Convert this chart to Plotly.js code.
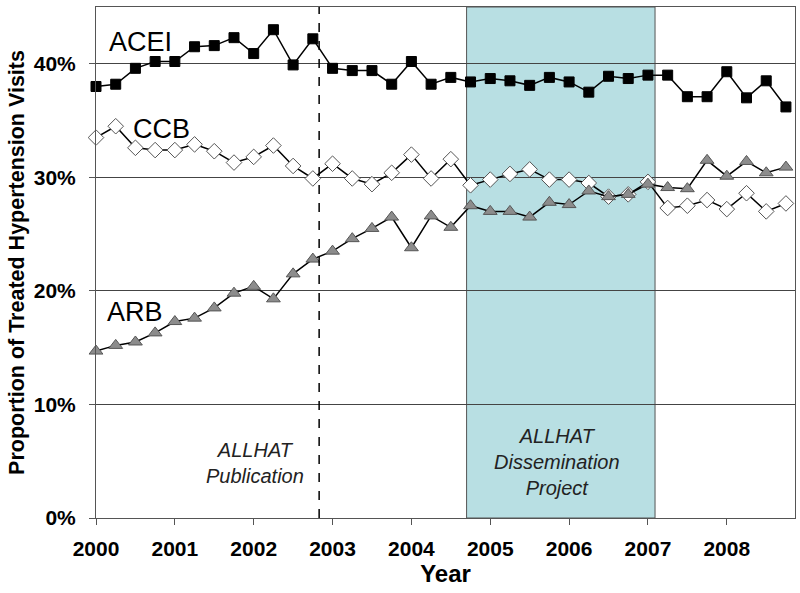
<!DOCTYPE html>
<html>
<head>
<meta charset="utf-8">
<script src="https://cdn.plot.ly/plotly-3.0.1.min.js"></script>
<style>html,body{margin:0;padding:0;background:#fff;}#chart{width:800px;height:593px;}</style>
</head>
<body>
<div id="chart"></div>
<script>
// Quarterly time points (year fractions)
const quarters = [2000.00,2000.25,2000.50,2000.75,2001.00,2001.25,2001.50,2001.75,2002.00,2002.25,2002.50,2002.75,
  2003.00,2003.25,2003.50,2003.75,2004.00,2004.25,2004.50,2004.75,2005.00,2005.25,2005.50,2005.75,
  2006.00,2006.25,2006.50,2006.75,2007.00,2007.25,2007.50,2007.75,2008.00,2008.25,2008.50,2008.75];
const acei = [38.0,38.2,39.6,40.2,40.2,41.5,41.6,42.3,40.9,43.0,39.9,42.2,39.6,39.4,39.4,38.2,40.2,38.2,38.8,38.4,
  38.7,38.5,38.1,38.8,38.4,37.5,38.9,38.7,39.0,39.0,37.1,37.1,39.3,37.0,38.5,36.2];
const ccb = [33.5,34.5,32.6,32.4,32.4,32.9,32.3,31.3,31.8,32.8,31.0,29.9,31.2,29.9,29.4,30.4,32.0,29.9,31.6,29.3,
  29.8,30.3,30.7,29.8,29.8,29.5,28.3,28.5,29.6,27.3,27.5,28.0,27.2,28.6,27.0,27.7];
const arb = [14.7,15.2,15.5,16.3,17.3,17.6,18.5,19.8,20.4,19.3,21.5,22.8,23.5,24.6,25.5,26.5,23.8,26.6,25.6,27.5,
  27.0,27.0,26.5,27.8,27.6,28.8,28.3,28.5,29.4,29.1,29.0,31.5,30.1,31.4,30.4,30.9];
const yearTicks = [2000,2001,2002,2003,2004,2005,2006,2007,2008];
const yearLabels = ["2000","2001","2002","2003","2004","2005","2006","2007","2008"];
const yTicks = [0,10,20,30,40];
const yLabels = ["0%","10%","20%","30%","40%"];
const publicationDate = 2002.83;
const projectStart = 2004.70, projectEnd = 2007.09;

const font = "Liberation Sans, Arial, sans-serif";

const traces = [
  {x: quarters, y: acei, name: "ACEI", mode: "lines+markers", cliponaxis: false,
   line: {color: "#000", width: 1.5},
   marker: {symbol: "square", size: 10, color: "#000", line: {color: "#000", width: 1}}},
  {x: quarters, y: ccb, name: "CCB", mode: "lines+markers", cliponaxis: false,
   line: {color: "#000", width: 1.5},
   marker: {symbol: "diamond", size: 12, color: "#fff", line: {color: "#555", width: 1}}},
  {x: quarters, y: arb, name: "ARB", mode: "lines+markers", cliponaxis: false,
   line: {color: "#000", width: 1.5},
   marker: {symbol: "triangle-up", size: 12, color: "#8c8c8c", line: {color: "#555", width: 1}}}
];

const layout = {
  width: 800, height: 593,
  margin: {l: 96, r: 5, t: 7, b: 75},
  paper_bgcolor: "#fff", plot_bgcolor: "#fff",
  showlegend: false,
  font: {family: font, color: "#000"},
  xaxis: {
    range: [2000, 2008.865], tickvals: yearTicks, ticktext: yearLabels,
    ticks: "outside", ticklen: 6, tickcolor: "#555", tickwidth: 1,
    showgrid: false, zeroline: false,
    showline: true, mirror: true, linecolor: "#555", linewidth: 1,
    tickfont: {family: font, size: 21, color: "#000", weight: "bold"},
    ticklabelstandoff: 6,
    title: {text: "<b>Year</b>", font: {family: font, size: 24, color: "#000"}, standoff: 0}
  },
  yaxis: {
    range: [0, 45], tickvals: yTicks, ticktext: yLabels,
    ticks: "outside", ticklen: 6, tickcolor: "#555", tickwidth: 1,
    showgrid: true, gridcolor: "#444", gridwidth: 1, zeroline: false,
    showline: true, mirror: true, linecolor: "#555", linewidth: 1,
    tickfont: {family: font, size: 21, color: "#000", weight: "bold"},
    ticklabelstandoff: 9,
    title: {text: "<b>Proportion of Treated Hypertension Visits</b>", font: {family: font, size: 21.5, color: "#000"}, standoff: 3}
  },
  shapes: [
    {type: "rect", xref: "x", yref: "y", x0: projectStart, x1: projectEnd, y0: 0, y1: 45,
     fillcolor: "#b8dfe3", line: {color: "#555", width: 1}, layer: "below"},
    {type: "line", xref: "x", yref: "y", x0: publicationDate, x1: publicationDate, y0: 0, y1: 45,
     line: {color: "#000", width: 1.5, dash: "dash"}, layer: "above"}
  ],
  annotations: [
    {text: "ACEI", x: 2000.14, y: 41.9, xref: "x", yref: "y", xanchor: "left", yanchor: "middle", showarrow: false,
     font: {family: font, size: 27, color: "#000"}},
    {text: "CCB", x: 2000.44, y: 34.3, xref: "x", yref: "y", xanchor: "left", yanchor: "middle", showarrow: false,
     font: {family: font, size: 27, color: "#000"}},
    {text: "ARB", x: 2000.12, y: 18.1, xref: "x", yref: "y", xanchor: "left", yanchor: "middle", showarrow: false,
     font: {family: font, size: 27, color: "#000"}},
    {text: "<i>ALLHAT<br>Publication</i>", x: 2002.02, y: 4.85, xref: "x", yref: "y", xanchor: "center", yanchor: "middle", showarrow: false,
     font: {family: font, size: 20, color: "#222"}},
    {text: "<i>ALLHAT<br>Dissemination<br>Project</i>", x: 2005.85, y: 4.9, xref: "x", yref: "y", xanchor: "center", yanchor: "middle", showarrow: false,
     font: {family: font, size: 20, color: "#222"}}
  ]
};

Plotly.newPlot("chart", traces, layout, {staticPlot: true, displayModeBar: false});
</script>
</body>
</html>
